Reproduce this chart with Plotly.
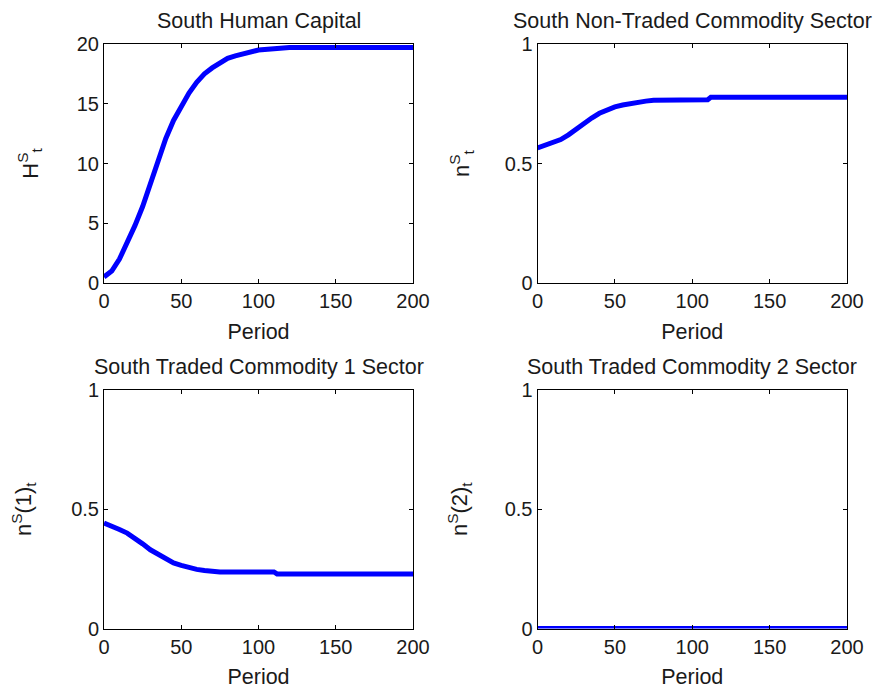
import plotly.graph_objects as go

# ---- data ----
period_h = [0, 5, 10, 15, 20, 25, 30, 35, 40, 45, 50, 55, 60, 65, 70, 75, 80, 85, 90, 95, 100, 110, 120, 200]
human_capital = [0.5, 1.0, 2.0, 3.3, 4.8, 6.4, 8.4, 10.4, 12.1, 13.6, 14.8, 15.9, 16.8, 17.5, 18.0, 18.4, 18.8, 19.0, 19.2, 19.35, 19.5, 19.6, 19.7, 19.7]

period_n = [0, 5, 10, 15, 20, 25, 30, 35, 40, 45, 50, 55, 60, 65, 70, 75, 110, 112, 200]
non_traded = [0.565, 0.575, 0.585, 0.60, 0.62, 0.645, 0.67, 0.69, 0.71, 0.725, 0.737, 0.745, 0.752, 0.757, 0.761, 0.765, 0.767, 0.777, 0.777]
traded1 = [0.442, 0.43, 0.415, 0.40, 0.38, 0.355, 0.33, 0.31, 0.29, 0.275, 0.265, 0.255, 0.248, 0.243, 0.240, 0.237, 0.237, 0.229, 0.229]

period_2 = [0, 200]
traded2 = [0.0, 0.0]

titles = ["South Human Capital", "South Non-Traded Commodity Sector",
          "South Traded Commodity 1 Sector", "South Traded Commodity 2 Sector"]
ytitles = ["H<sup>S</sup><sub>t</sub>", "n<sup>S</sup><sub>t</sub>",
           "n<sup>S</sup>(1)<sub>t</sub>", "n<sup>S</sup>(2)<sub>t</sub>"]
xticks = [0, 50, 100, 150, 200]
yticks_h = [0, 5, 10, 15, 20]
yticks_n = [0, 0.5, 1]

OFF = 8  # page body margin offset
W, H = 886 - OFF, 689 - OFF
xdoms = [[(104 - OFF) / W, (413 - OFF) / W], [(537.5 - OFF) / W, (847 - OFF) / W]]
ydoms = [[1 - (283 - OFF) / H, 1 - (44 - OFF) / H], [1 - (628.5 - OFF) / H, 1 - (390 - OFF) / H]]
ystandoffs = [32, 28, 34, 30]

fig = go.Figure()
series = [(period_h, human_capital), (period_n, non_traded), (period_n, traded1), (period_2, traded2)]
font = dict(family="Liberation Sans, Arial, sans-serif", color="#1a1a1a")

for i, (xs, ys) in enumerate(series):
    idx = "" if i == 0 else str(i + 1)
    fig.add_trace(go.Scatter(x=xs, y=ys, mode="lines", line=dict(color="#0000ff", width=5),
                             xaxis="x" + idx, yaxis="y" + idx, showlegend=False, cliponaxis=False))
    r, c = divmod(i, 2)
    common = dict(showline=True, linecolor="black", linewidth=1, mirror="ticks", ticks="inside",
                  ticklen=4, tickcolor="black", showgrid=False, zeroline=False, automargin=False,
                  tickfont=dict(size=20, **font))
    fig.layout["xaxis" + idx] = dict(domain=xdoms[c], anchor="y" + idx, range=[0, 200], tickvals=xticks,
                                     title=dict(text="Period", font=dict(size=21.5, **font), standoff=12), **common)
    fig.layout["yaxis" + idx] = dict(domain=ydoms[r], anchor="x" + idx,
                                     range=[0, 20] if i == 0 else [0, 1],
                                     tickvals=yticks_h if i == 0 else yticks_n,
                                     title=dict(text=ytitles[i], font=dict(size=22, **font), standoff=ystandoffs[i]), **common)
    fig.add_annotation(text=titles[i], x=(xdoms[c][0] + xdoms[c][1]) / 2, y=ydoms[r][1],
                       xref="paper", yref="paper", xanchor="center", yanchor="bottom", yshift=10,
                       borderpad=0, showarrow=False, font=dict(size=21.5, **font))

fig.update_layout(width=W, height=H, margin=dict(l=0, r=0, t=0, b=0),
                  plot_bgcolor="white", paper_bgcolor="white")
fig.write_html("out.html")
